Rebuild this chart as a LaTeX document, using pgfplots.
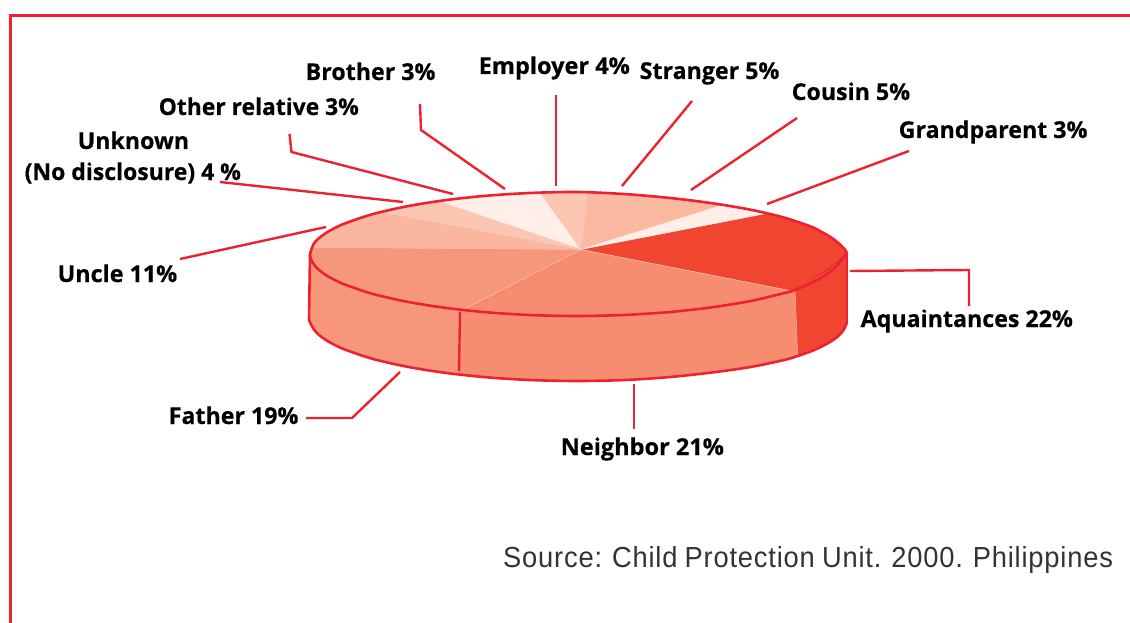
\documentclass[border=0pt]{standalone}
\usepackage{pgfplots}
\pgfplotsset{compat=1.18}
\usepackage{fontspec}
\setmainfont[BoldFeatures={FakeBold=0.4}]{Open Sans}
\newfontfamily\srcfont[LetterSpace=3,WordSpace=0.85]{Liberation Sans}
\definecolor{rim}{HTML}{ED2230}
\definecolor{cAqua}{HTML}{F04531}
\definecolor{cNeigh}{HTML}{F68D70}
\definecolor{cFather}{HTML}{F6977C}
\definecolor{cUncle}{HTML}{FAB69E}
\definecolor{cUnknown}{HTML}{FCC7B2}
\definecolor{cPale}{HTML}{FFEFE8}
\definecolor{cEmployer}{HTML}{FCC6B2}
\definecolor{cStranger}{HTML}{FBB9A1}
\definecolor{hair}{HTML}{FBC4B2}
\newcommand{\lab}[4][1]{\node[anchor=base west,inner sep=0pt,font=\fontsize{23.2}{26}\bfseries] at (axis cs:#2,#3) {\scalebox{#1}[1]{#4}};}
\begin{document}
\begin{tikzpicture}
\path[use as bounding box] (0,0) rectangle (1130pt,623pt);
\begin{axis}[
  at={(0,0)},anchor=south west,
  scale only axis,width=1130pt,height=623pt,
  xmin=0,xmax=1130,ymin=0,ymax=623,y dir=reverse,
  axis lines=none,ticks=none,clip=false,
  every axis plot/.append style={mark=none,forget plot},
  slice/.style={fill=#1,draw=#1,line width=0.3pt},
  leader/.style={rim,line width=2.4pt},
  edge/.style={rim,line width=2.6pt,smooth,tension=0.5,line cap=round},
  hairline/.style={hair,line width=0.45pt},
]
% frame along the top and left
\addplot[rim,line width=3pt] coordinates {(10,623) (10,16) (1130,16)};

% side wall of the disc
\addplot[slice=cFather] coordinates {(310,255) (311,259.4) (314.1,264.8) (319.1,270) (326.2,275.2) (335.2,280.2) (346,285) (372.8,293.9) (405.9,301.5) (444.3,307.7) (460,309.5) (459,375) (444.3,372.7) (405.9,366.5) (372.8,358.9) (346,350) (335.2,345.2) (326.2,340.2) (319.1,335) (314.1,329.8) (311,324.4) (309,320)} --cycle;
\addplot[slice=cNeigh] coordinates {(460,309.5) (486.7,312.3) (531.9,315.1) (578.5,316) (625.1,314.9) (670.3,312) (712.7,307.2) (751.1,300.9) (784.2,293.1) (795,290) (797.7,356) (784.2,360) (751.1,366.9) (712.7,372.4) (670.3,377) (625.1,380) (578.5,381) (531.9,380.1) (486.7,377.3) (459,375)} --cycle;
\addplot[slice=cAqua] coordinates {(795,290) (811,283) (821.8,277.5) (830.8,271.5) (837.8,264.5) (842.9,258.5) (846,255.5) (847,254) (847,322) (846,325) (842.9,331) (837.8,336.5) (830.8,341.5) (821.8,346.5) (811,351.3) (797.7,356)} --cycle;

% top face slices
\addplot[slice=cAqua] coordinates {(581,249.5) (767,213.4) (784.2,217.6) (811,226.6) (821.8,232) (830.8,237.2) (837.8,242.5) (842.9,247.3) (846,251) (847,254) (846,255.5) (842.9,258.5) (837.8,264.5) (830.8,271.5) (821.8,277.5) (811,283) (792,291)} --cycle;
\addplot[slice=cNeigh] coordinates {(581,249.5) (792,291) (784.2,293.1) (751.1,300.9) (712.7,307.2) (670.3,312) (625.1,314.9) (578.5,316) (531.9,315.1) (486.7,312.3) (462.7,309.7)} --cycle;
\addplot[slice=cFather] coordinates {(581,249.5) (462.7,309.7) (444.3,307.7) (405.9,301.5) (372.8,293.9) (346,285) (335.2,280.2) (326.2,275.2) (319.1,270) (314.1,264.8) (311,259.4) (310,255) (312.5,247.5)} --cycle;
\addplot[slice=cUncle] coordinates {(581,249.5) (312.5,247.5) (314.1,243.2) (319.1,238) (326.2,232.8) (335.2,227.8) (346,223) (372.8,214.1) (382,212)} --cycle;
\addplot[slice=cUnknown] coordinates {(581,249.5) (382,212) (405.9,206.5) (438,201)} --cycle;
\addplot[slice=cPale] coordinates {(581,249.5) (438,201) (444.3,200.3) (486.7,195.7) (493,195.2)} --cycle;
\addplot[slice=cPale] coordinates {(581,249.5) (493,195.2) (531.9,192.9) (540,192.6)} --cycle;
\addplot[slice=cEmployer] coordinates {(581,249.5) (540,192.6) (578.5,192) (588,192.1)} --cycle;
\addplot[slice=cStranger] coordinates {(581,249.5) (588,192.1) (625.1,194.1) (645,195.8)} --cycle;
\addplot[slice=cStranger] coordinates {(581,249.5) (645,195.8) (670.3,198) (712.7,203.3) (723,205)} --cycle;
\addplot[slice=cPale] coordinates {(581,249.5) (723,205) (751.1,209.8) (767,213.4)} --cycle;

% pale seams between neighbouring slices
\addplot[hairline] coordinates {(581,249.5) (462.7,309.7)};
\addplot[hairline] coordinates {(581,249.5) (382,212)};
\addplot[hairline] coordinates {(581,249.5) (438,201)};
\addplot[hairline] coordinates {(581,249.5) (588,192.1)};
\addplot[hairline] coordinates {(581,249.5) (645,195.8)};
\addplot[hairline] coordinates {(795,291) (797.7,355)};
\addplot[hair,line width=0.5pt] coordinates {(581,249.5) (792,291)};
\addplot[rim,line width=0.8pt] coordinates {(846,253) (838,261.5) (826,270.5) (812,278)};

% disc outlines
\addplot[edge] coordinates {(310,255) (311,250.5) (314.1,243.2) (319.1,238) (326.2,232.8) (335.2,227.8) (346,223) (372.8,214.1) (405.9,206.5) (444.3,200.3) (486.7,195.7) (531.9,192.9) (578.5,192) (625.1,194.1) (670.3,198) (712.7,203.3) (751.1,209.8) (784.2,217.6) (811,226.6) (821.8,232) (830.8,237.2) (837.8,242.5) (842.9,247.3) (846,251) (847,254)};
\addplot[edge] coordinates {(310,255) (311,259.4) (314.1,264.8) (319.1,270) (326.2,275.2) (335.2,280.2) (346,285) (372.8,293.9) (405.9,301.5) (444.3,307.7) (486.7,312.3) (531.9,315.1) (578.5,316) (625.1,314.9) (670.3,312) (712.7,307.2) (751.1,300.9) (784.2,293.1) (795,290) (811,283) (821.8,277.5) (830.8,271.5) (837.8,264.5) (842.9,258.5) (846,255.5) (847,254)};
\addplot[edge] coordinates {(309,320) (311,324.4) (314.1,329.8) (319.1,335) (326.2,340.2) (335.2,345.2) (346,350) (372.8,358.9) (405.9,366.5) (444.3,372.7) (486.7,377.3) (531.9,380.1) (578.5,381) (625.1,380) (670.3,377) (712.7,372.4) (751.1,366.9) (784.2,360) (797.7,356) (811,351.3) (821.8,346.5) (830.8,341.5) (837.8,336.5) (842.9,331) (846,325) (847,322)};
\addplot[rim,line width=2.6pt] coordinates {(310,255) (309,320)};
\addplot[rim,line width=2.6pt] coordinates {(847,254) (847,322)};
\addplot[rim,line width=2.4pt] coordinates {(460,312) (459,371)};

% leader lines
\addplot[leader] coordinates {(420,104) (421,130) (505,189)};
\addplot[leader] coordinates {(556,95) (556,186)};
\addplot[leader] coordinates {(692,101) (622,186)};
\addplot[leader] coordinates {(797,118) (691,190)};
\addplot[leader] coordinates {(909,151) (767,204)};
\addplot[leader] coordinates {(289.5,134) (291.5,152) (453,194)};
\addplot[leader] coordinates {(220,182) (403,202)};
\addplot[leader] coordinates {(180,259) (326,227)};
\addplot[leader] coordinates {(850,271) (969,270) (969,306)};
\addplot[leader] coordinates {(634,384) (634,429)};
\addplot[leader] coordinates {(400,372) (352,418) (306,418)};

% labels
\lab{305.5}{80}{Brother 3\%}
\lab[1.014]{478.5}{74}{Employer 4\%}
\lab{639.5}{79}{Stranger 5\%}
\lab{791.5}{100}{Cousin 5\%}
\lab{898.5}{138}{Grandparent 3\%}
\lab[0.985]{158.5}{115}{Other relative 3\%}
\lab{77.5}{149}{Unknown}
\lab[0.99]{24.5}{180}{(No disclosure) 4 \%}
\lab[1.005]{57.5}{282}{Uncle 11\%}
\lab{860.5}{327}{Aquaintances 22\%}
\lab{168.5}{424}{Father 19\%}
\lab[1.014]{560.5}{455}{Neighbor 21\%}
\node[anchor=base west,inner sep=0pt,text=black!80,font=\srcfont\fontsize{29}{33}\selectfont] at (axis cs:503,567) {\scalebox{0.941}[1]{Source: Child Protection Unit. 2000. Philippines}};
\end{axis}
\end{tikzpicture}
\end{document}
